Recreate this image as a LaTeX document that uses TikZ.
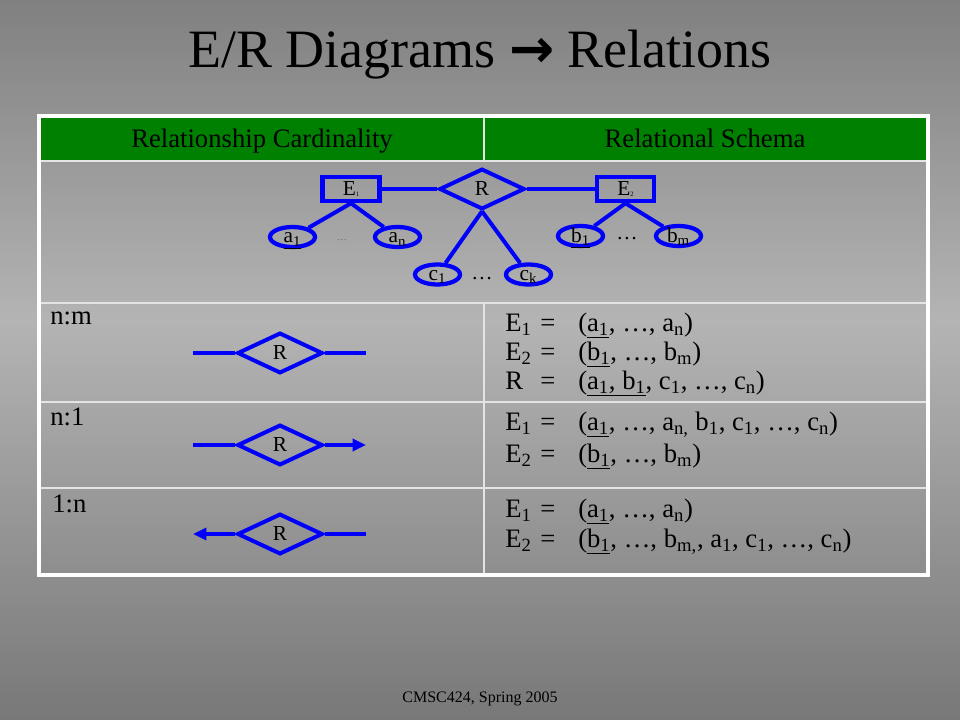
\documentclass[tikz,border=0pt]{standalone}
\usepackage{fontspec}
\setmainfont{Liberation Serif}
\newfontfamily\arrowfont{DejaVu Sans}
\usetikzlibrary{shapes.geometric,arrows.meta}
\definecolor{erblue}{RGB}{0,0,250}
\definecolor{hdrgreen}{RGB}{0,128,0}
\definecolor{bgtop}{RGB}{128,128,128}
\definecolor{bgmid}{RGB}{180,180,180}
\definecolor{bgbot}{RGB}{120,120,120}
\definecolor{gridline}{RGB}{228,228,228}
\newcommand{\schemalhs}[1]{\makebox[26.25pt][l]{#1}\makebox[28.5pt][l]{=}}
\newcommand{\tinysub}[1]{{\fontsize{5}{5}\selectfont\raisebox{-1pt}{#1}}}
\newcommand{\lowlab}[1]{\raisebox{-2pt}{#1}}
\begin{document}
\begin{tikzpicture}[x=0.75pt,y=-0.75pt,
  entbox/.style={draw=erblue,line width=3.4pt,rectangle,minimum width=42.75pt,minimum height=18pt,inner sep=0pt,font=\fontsize{16}{18}\selectfont},
  reldia/.style={draw=erblue,line width=3pt,diamond,aspect=2.2,minimum width=64pt,minimum height=30.5pt,inner sep=0pt,font=\fontsize{16}{18}\selectfont},
  attr/.style={draw=erblue,line width=3.2pt,ellipse,minimum width=33.75pt,minimum height=15pt,inner sep=0pt,text height=5pt,text depth=0pt,font=\fontsize{16}{18}\selectfont},
  conn/.style={draw=erblue,line width=3pt},
  arr/.style={-{Triangle[length=10pt,width=9pt]}},
  hdr/.style={anchor=base,font=\fontsize{20}{24}\selectfont,inner sep=0pt},
  rowlab/.style={anchor=base west,font=\fontsize{20}{24}\selectfont,inner sep=0pt},
  schema/.style={anchor=base west,font=\fontsize{20}{24}\selectfont,inner sep=0pt},
  grid/.style={draw=gridline,line width=1.1pt}]
\useasboundingbox (0,0) rectangle (960,720);
% background
\shade[top color=bgtop,bottom color=bgmid] (0,0) rectangle (960,321);
\shade[top color=bgmid,bottom color=bgbot] (0,320) rectangle (960,720);
% title
\node[anchor=base,font=\fontsize{40.5}{46}\selectfont,inner sep=0pt] (title) at (480,68) {E/R Diagrams {\arrowfont\bfseries →} Relations};
% table
\fill[hdrgreen] (40,117) rectangle (927,161);
\draw[grid] (40,161) -- (927,161);
\draw[grid] (40,303) -- (927,303);
\draw[grid] (40,402) -- (927,402);
\draw[grid] (40,488) -- (927,488);
\draw[grid] (484,117) -- (484,161);
\draw[grid] (484,303) -- (484,575);
\draw[white,line width=2.3pt] (39,116) rectangle (928,575);
\node[hdr] (h1) at (262,148) {Relationship Cardinality};
\node[hdr] (h2) at (705,148) {Relational Schema};
% top E/R diagram
\node[entbox] (E1) at (351,189) {E\tinysub{1}};
\node[reldia] (R) at (482,189) {R};
\node[entbox] (E2) at (625.5,189) {E\tinysub{2}};
\node[attr] (a1) at (292.5,237) {\lowlab{\underline{a\textsubscript{1}}}};
\node[attr] (an) at (397.5,237) {\lowlab{a\textsubscript{n}}};
\node[attr] (b1) at (580.5,236) {\lowlab{\underline{b\textsubscript{1}}}};
\node[attr] (bm) at (678.5,236) {\lowlab{b\textsubscript{m}}};
\node[attr] (c1) at (437.5,274.5) {\lowlab{c\textsubscript{1}}};
\node[attr] (ck) at (528.5,274.5) {\lowlab{c\textsubscript{k}}};
\node[font=\fontsize{7}{8}\selectfont,text=gray!70!black,inner sep=0pt] (adots) at (342,240) {…};
\node[font=\fontsize{16}{18}\selectfont,inner sep=0pt] (bdots) at (627,239) {…};
\node[font=\fontsize{16}{18}\selectfont,inner sep=0pt] (cdots) at (482,279) {…};
\draw[conn] (E1) -- (R);
\draw[conn] (R) -- (E2);
\draw[conn] (E1.south) -- (a1);
\draw[conn] (E1.south) -- (an);
\draw[conn] (R.south) -- (c1);
\draw[conn] (R.south) -- (ck);
\draw[conn] (E2.south) -- (b1);
\draw[conn] (E2.south) -- (bm);
% rows: left column
\node[rowlab] (lnm) at (50,325) {n:m};
\node[rowlab] (ln1) at (50,425) {n:1};
\node[rowlab] (l1n) at (52,512) {1:n};
\node[reldia] (R1) at (280,353) {\raisebox{-2.5pt}{R}};
\coordinate (R1l) at (193,353);
\coordinate (R1r) at (366,353);
\draw[conn] (R1l) -- (R1);
\draw[conn] (R1) -- (R1r);
\node[reldia] (R2) at (280,445) {\raisebox{-2.5pt}{R}};
\coordinate (R2l) at (193,445);
\coordinate (R2r) at (366,445);
\draw[conn] (R2l) -- (R2);
\draw[conn,arr] (R2) -- (R2r);
\node[reldia] (R3) at (280,534) {\raisebox{-2.5pt}{R}};
\coordinate (R3l) at (193,534);
\coordinate (R3r) at (366,534);
\draw[conn,arr] (R3) -- (R3l);
\draw[conn] (R3) -- (R3r);
% rows: right column
\node[schema] (s11) at (505,331) {\schemalhs{E\textsubscript{1}}(\underline{a\textsubscript{1}}, …, a\textsubscript{n})};
\node[schema] (s12) at (505,360) {\schemalhs{E\textsubscript{2}}(\underline{b\textsubscript{1}}, …, b\textsubscript{m})};
\node[schema] (s13) at (505,389) {\schemalhs{R}(\underline{a\textsubscript{1}, b\textsubscript{1}}, c\textsubscript{1}, …, c\textsubscript{n})};
\node[schema] (s21) at (505,430) {\schemalhs{E\textsubscript{1}}(\underline{a\textsubscript{1}}, …, a\textsubscript{n,} b\textsubscript{1}, c\textsubscript{1}, …, c\textsubscript{n})};
\node[schema] (s22) at (505,462) {\schemalhs{E\textsubscript{2}}(\underline{b\textsubscript{1}}, …, b\textsubscript{m})};
\node[schema] (s31) at (505,517) {\schemalhs{E\textsubscript{1}}(\underline{a\textsubscript{1}}, …, a\textsubscript{n})};
\node[schema] (s32) at (505,547) {\schemalhs{E\textsubscript{2}}(\underline{b\textsubscript{1}}, …, b\textsubscript{m,}, a\textsubscript{1}, c\textsubscript{1}, …, c\textsubscript{n})};
% footer
\node[anchor=base,font=\fontsize{12}{14}\selectfont,inner sep=0pt] (foot) at (480,702) {CMSC424, Spring 2005};
\end{tikzpicture}
\end{document}
